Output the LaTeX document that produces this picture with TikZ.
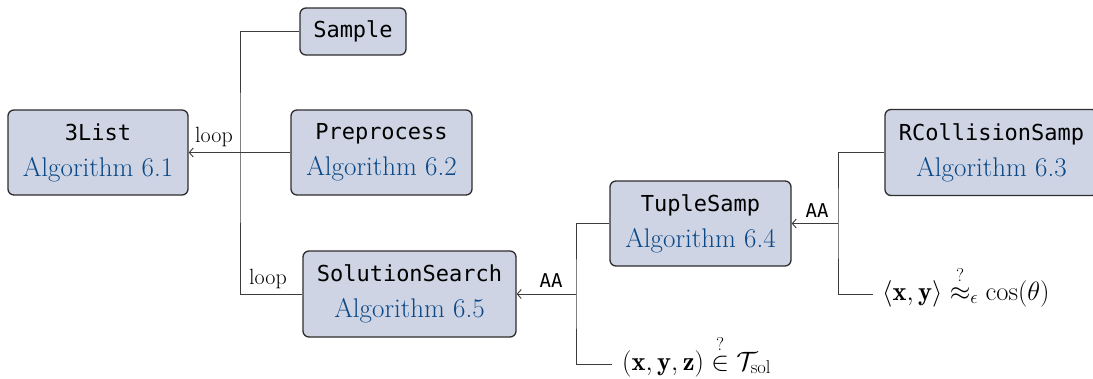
\RequirePackage{fix-cm}
\documentclass[tikz,border=0pt]{standalone}
\usepackage{amsmath,amssymb}
\usepackage{fontspec}
\setmonofont{DejaVu Sans Mono}
\usetikzlibrary{arrows.meta}
\definecolor{boxfill}{RGB}{206,212,227}
\definecolor{boxdraw}{RGB}{45,45,45}
\definecolor{algblue}{RGB}{10,72,135}
\definecolor{linegray}{RGB}{60,60,60}
\newcommand{\mononame}[1]{{\fontsize{22}{36}\selectfont\ttfamily #1}}
\newcommand{\algname}[1]{{\fontsize{27}{36}\selectfont\color{algblue}#1}}
\tikzset{
  algbox/.style={draw=boxdraw, fill=boxfill, line width=1.3pt, rounded corners=6pt,
    inner sep=0pt, align=center, font=\fontsize{27}{36}\selectfont},
  conn/.style={draw=linegray, line width=0.9pt},
  arr/.style={conn, -{Straight Barb[length=4pt,width=9pt,line width=0.9pt]}},
  lbl/.style={inner sep=0pt, font=\fontsize{22}{26}\selectfont},
  aalbl/.style={inner sep=0pt, font=\fontsize{19}{22}\selectfont\ttfamily},
  formula/.style={inner sep=0pt, anchor=base west, font=\fontsize{26.5}{30}\selectfont}
}
\begin{document}
\begin{tikzpicture}[x=1pt,y=-1pt]
\useasboundingbox (0,0) rectangle (1093,378);
\node[algbox, minimum width=180, minimum height=85] (list3) at (98,152.5)
  {\mononame{3List}\\\algname{Algorithm 6.1}};
\node[algbox, minimum width=106, minimum height=47] (sample) at (353,31.5)
  {\mononame{Sample}};
\node[algbox, minimum width=181, minimum height=85] (prep) at (381.5,152.5)
  {\mononame{Preprocess}\\\algname{Algorithm 6.2}};
\node[algbox, minimum width=213, minimum height=86] (solve) at (409.5,294)
  {\mononame{SolutionSearch}\\\algname{Algorithm 6.5}};
\node[algbox, minimum width=181, minimum height=85] (tuple) at (700.5,223.5)
  {\mononame{TupleSamp}\\\algname{Algorithm 6.4}};
\node[algbox, minimum width=213, minimum height=86] (rcoll) at (991.5,152.5)
  {\mononame{RCollisionSamp}\\\algname{Algorithm 6.3}};

\coordinate (j1) at (240,152.5);
\coordinate (j2) at (576,294);
\coordinate (j3) at (838,223.5);
\coordinate (f1) at (612,364);
\coordinate (f2) at (873,294);

\draw[conn] (sample.west) -| (j1) |- (solve.west);
\draw[arr] (prep.west) -- (list3.east);
\draw[conn] (tuple.west) -| (j2) |- (f1);
\draw[arr] (j2) -- (solve.east);
\draw[conn] (rcoll.west) -| (j3) |- (f2);
\draw[arr] (j3) -- (tuple.east);

\node[lbl] (loopa) at (214,137) {loop};
\node[lbl] (loopb) at (268,279) {loop};
\node[aalbl] (aaa) at (551,281) {AA};
\node[aalbl] (aab) at (817,211) {AA};

\node[formula] (form1) at (622,370)
  {$(\mathbf{x},\mathbf{y},\mathbf{z}) \stackrel{?}{\in} \mathcal{T}_{\mathrm{sol}}$};
\node[formula] (form2) at (882,300)
  {$\langle\mathbf{x},\mathbf{y}\rangle \stackrel{?}{\approx}_{\epsilon} \cos(\theta)$};
\end{tikzpicture}
\end{document}
